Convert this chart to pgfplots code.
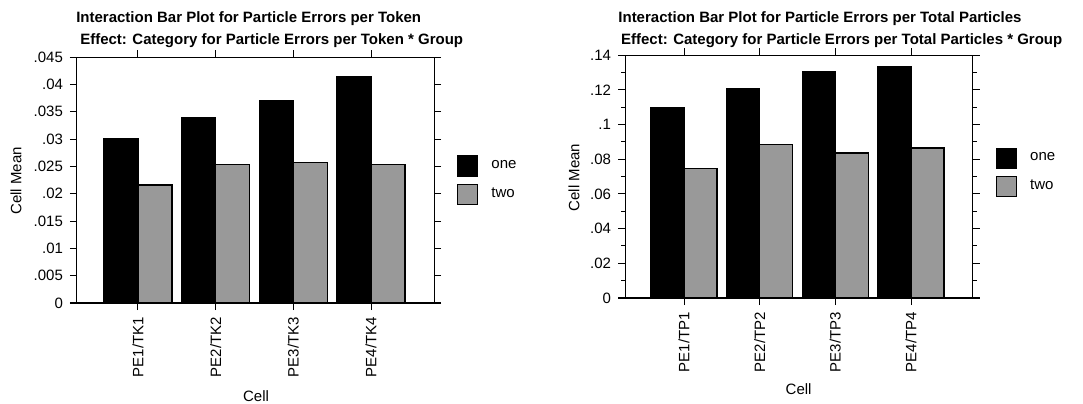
\documentclass[border=0pt]{standalone}
\usepackage{fontspec}
\setmainfont{Liberation Sans}
\usepackage{pgfplots}
\pgfplotsset{compat=1.18}
\definecolor{barg}{gray}{0.6}
\newcommand{\fs}{\fontsize{7.5}{9}\selectfont}
\pgfplotsset{
  mystyle/.style={
    scale only axis, anchor=south west,
    ymin=0,
    xtick={0,1,2,3},
    scaled y ticks=false,
    tick align=outside, tick pos=both,
    major tick length=3.5pt, minor tick length=2pt,
    axis line style={line width=0.5pt},
    every tick/.style={black, line width=0.5pt},
    ybar=0pt,
    tick label style={font=\fs},
    /pgf/number format/assume math mode=true,
    xticklabel style={rotate=90, anchor=east},
    legend style={draw=none, fill=none, inner sep=0pt, row sep=3.5pt, font=\fs, cells={anchor=west},
      /tikz/every odd column/.append style={column sep=4.5pt}},
    legend image code/.code={\draw[##1, line width=0.6pt] (0pt,-5pt) rectangle (10pt,5pt);},
    after end axis/.code={
      \draw[line width=1pt] ([xshift=-3.5pt]rel axis cs:0,0) -- ([xshift=3.5pt]rel axis cs:1,0);
      \draw[line width=0.5pt] ([xshift=-3.5pt]rel axis cs:0,1) -- ([xshift=3.5pt]rel axis cs:1,1);
    },
  }
}
\begin{document}
\begin{tikzpicture}
\begin{axis}[mystyle,
  at={(38.5pt,50pt)}, width=178.5pt, height=123pt,
  xmin=-0.785, xmax=3.81, ymax=0.045,
  bar width=17pt,
  ytick={0,0.005,0.01,0.015,0.02,0.025,0.03,0.035,0.04,0.045},
  yticklabels={0,.005,.01,.015,.02,.025,.03,.035,.04,.045},
  xticklabels={PE1/TK1,PE2/TK2,PE3/TK3,PE4/TK4},
  legend style={at={(1.064,0.6016)}, anchor=north west},
]
\addplot[fill=black, draw=black, line width=0.6pt] coordinates {(0,0.0301) (1,0.0339) (2,0.0371) (3,0.0415)};
\addplot[fill=barg, draw=black, line width=0.6pt] coordinates {(0,0.0216) (1,0.0254) (2,0.0257) (3,0.0254)};
\legend{one,two}
\end{axis}
\begin{axis}[mystyle,
  at={(312.5pt,52.5pt)}, width=173.85pt, height=121.35pt,
  xmin=-0.78, xmax=3.815, ymax=0.14,
  bar width=16.5pt,
  ytick={0,0.02,0.04,0.06,0.08,0.1,0.12,0.14},
  yticklabels={0,.02,.04,.06,.08,.1,.12,.14},
  minor ytick={0.01,0.03,0.05,0.07,0.09,0.11,0.13},
  xticklabels={PE1/TP1,PE2/TP2,PE3/TP3,PE4/TP4},
  legend style={at={(1.066,0.6208)}, anchor=north west},
]
\addplot[fill=black, draw=black, line width=0.6pt] coordinates {(0,0.1101) (1,0.1207) (2,0.1307) (3,0.1334)};
\addplot[fill=barg, draw=black, line width=0.6pt] coordinates {(0,0.0748) (1,0.0886) (2,0.0836) (3,0.0865)};
\legend{one,two}
\end{axis}
\node[font=\fs\bfseries] at (124.35pt,192pt) {Interaction Bar Plot for Particle Errors per Token};
\node[font=\fs\bfseries] at (135.85pt,181pt) {Effect: Category for Particle Errors per Token * Group};
\node[font=\fs\bfseries] at (410pt,192pt) {Interaction Bar Plot for Particle Errors per Total Particles};
\node[font=\fs\bfseries] at (420.85pt,181pt) {Effect: Category for Particle Errors per Total Particles * Group};
\node[font=\fs, rotate=90] at (8pt,111.1pt) {Cell Mean};
\node[font=\fs, rotate=90] at (287pt,112.75pt) {Cell Mean};
\node[font=\fs] at (128pt,3.5pt) {Cell};
\node[font=\fs] at (399.3pt,7pt) {Cell};
\pgfresetboundingbox
\path[use as bounding box] (0,0) rectangle (541.5pt,201.5pt);
\end{tikzpicture}
\end{document}
